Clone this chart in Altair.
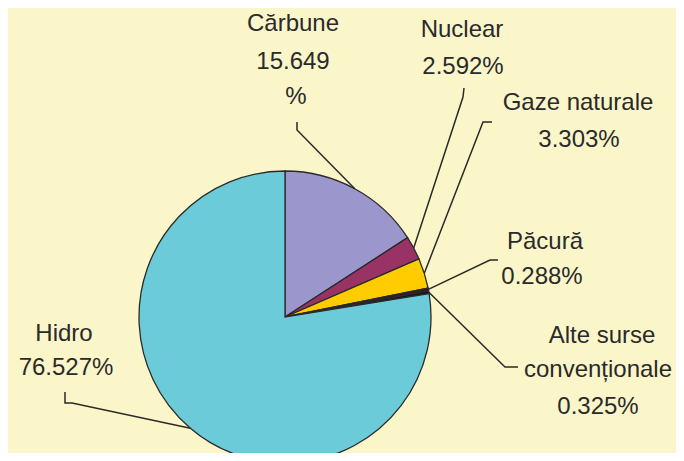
import math
import altair as alt
import pandas as pd

# ---- data ----
categories = ["Cărbune", "Nuclear", "Gaze naturale", "Păcură",
              "Alte surse convenționale", "Hidro"]
shares = [15.649, 2.592, 3.303, 0.288, 0.325, 76.527]
colors = ["#9b97cc", "#993366", "#ffcc00", "#4a0c18", "#151515", "#6ccbd9"]

# ---- annotation layout (pie-relative pixels, y up) ----
R = 146
W, H = 668, 445
CX, CY = 277, 309  # pie centre inside the plot area

name_lines = {
    "Alte surse convenționale": ["Alte surse", "convenționale"],
}
pct_lines = {"Cărbune": lambda s: [s[:-1], "%"]}

label_pos = {  # centre of the first line, then line step
    "Cărbune": (8, 293, [0, 38, 73], [0, 0, 3]),
    "Nuclear": (177, 287, [0, 37], [0, 1]),
    "Gaze naturale": (293, 214, [0, 37], [0, 1]),
    "Păcură": (260, 75, [0, 35], [0, -3]),
    "Alte surse convenționale": (317, -19, [0, 34, 71], [0, -4, -4]),
    "Hidro": (-221, -17, [0, 34], [0, 2]),
}
leader_pts = {  # elbow points; the pie edge point is appended/prepended
    "Cărbune": ([(12, 195), (12, 187)], "end"),
    "Nuclear": ([(179, 229), (178, 220)], "end"),
    "Gaze naturale": ([(207, 195), (198, 195)], "end"),
    "Păcură": ([(213, 57), (205, 57)], "end"),
    "Alte surse convenționale": ([(233, -50), (220, -50)], "end"),
    "Hidro": ([(-220, -75), (-220, -86), (-213, -86)], "end"),
}

# ---- build tables ----
total = sum(shares)
pie_df = pd.DataFrame({"category": categories, "share": shares,
                       "idx": list(range(len(categories)))})

line_rows, text_rows = [], []
cum = 0.0
for cat, v in zip(categories, shares):
    mid = 2 * math.pi * (cum + v / 2) / total
    cum += v
    ex, ey = R * math.sin(mid), R * math.cos(mid)
    pts, _ = leader_pts[cat]
    seq = list(pts) + [(ex, ey)]
    for k, (px, py) in enumerate(seq):
        line_rows.append({"grp": cat, "ord": k, "x": px, "y": py})
    pct = f"{v:.3f}%"
    lines = name_lines.get(cat, [cat]) + (pct_lines[cat](pct) if cat in pct_lines else [pct])
    x0, y0, dys, dxs = label_pos[cat]
    for t, dy, dx in zip(lines, dys, dxs):
        text_rows.append({"x": x0 + dx, "y": y0 - dy, "text": t})

lines_df = pd.DataFrame(line_rows)
text_df = pd.DataFrame(text_rows)

xs = alt.Scale(domain=[-CX, W - CX], nice=False, zero=False)
ys = alt.Scale(domain=[CY - H, CY], nice=False, zero=False)

pie = alt.Chart(pie_df).mark_arc(radius=R, stroke="#2a2a2a", strokeWidth=1.3).encode(
    x=alt.X(datum=0, scale=xs, axis=None),
    y=alt.Y(datum=0, scale=ys, axis=None),
    theta=alt.Theta("share:Q", stack=True),
    color=alt.Color("category:N", scale=alt.Scale(domain=categories, range=colors), legend=None),
    order=alt.Order("idx:Q"),
)

leaders = alt.Chart(lines_df).mark_line(color="#2a2a2a", strokeWidth=1.5).encode(
    x=alt.X("x:Q", scale=xs, axis=None),
    y=alt.Y("y:Q", scale=ys, axis=None),
    detail="grp:N",
    order="ord:Q",
)

labels = alt.Chart(text_df).mark_text(
    font="Liberation Sans", fontSize=24, color="#2a2a2a",
    align="center", baseline="middle",
).encode(
    x=alt.X("x:Q", scale=xs, axis=None),
    y=alt.Y("y:Q", scale=ys, axis=None),
    text="text:N",
)

chart = alt.layer(pie, leaders, labels).properties(
    width=W, height=H, autosize="none", padding=0, background="#fbf6ca",
).configure_view(stroke=None)

chart.save("out.html", embed_options={"renderer": "svg", "actions": False})
